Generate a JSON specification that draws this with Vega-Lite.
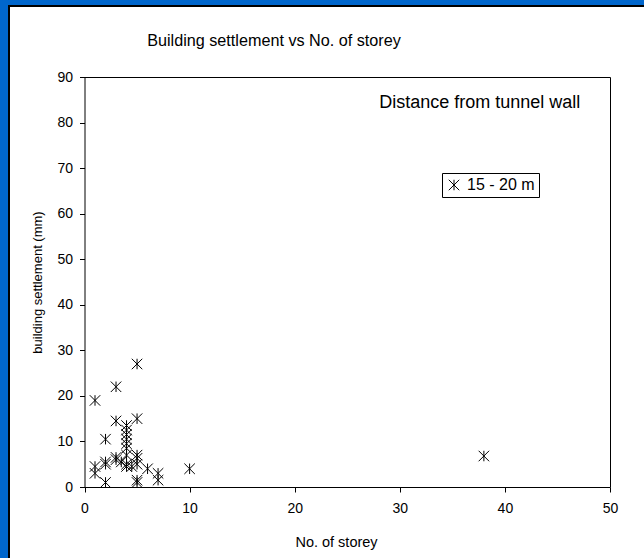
{
  "$schema": "https://vega.github.io/schema/vega-lite/v6.json",
  "width": 644,
  "height": 560,
  "autosize": {"type": "none"},
  "padding": {"left": 9, "top": 6, "right": 0, "bottom": 0},
  "background": "#0066CC",
  "config": {
    "view": {"fill": "white", "stroke": "black", "strokeWidth": 2},
    "font": "Liberation Sans",
    "axis": {
      "labelFont": "Liberation Sans",
      "labelFontSize": 14,
      "labelColor": "black",
      "labelFlush": false,
      "titleFont": "Liberation Sans",
      "titleFontSize": 13,
      "titleFontWeight": "normal",
      "titleColor": "black",
      "domainColor": "black",
      "tickColor": "black",
      "tickSize": 5,
      "grid": false
    }
  },
  "title": {
    "text": "Building settlement vs No. of storey",
    "anchor": "middle",
    "frame": "group",
    "baseline": "middle",
    "offset": 0,
    "dx": -57,
    "dy": 51,
    "font": "Liberation Sans",
    "fontSize": 16.2,
    "fontWeight": "normal",
    "color": "black"
  },
  "data": {
    "values": [
      {"storeys": 1, "settlement": 19, "distance": "15 - 20 m"},
      {"storeys": 3, "settlement": 22, "distance": "15 - 20 m"},
      {"storeys": 5, "settlement": 27, "distance": "15 - 20 m"},
      {"storeys": 3, "settlement": 14.5, "distance": "15 - 20 m"},
      {"storeys": 5, "settlement": 15, "distance": "15 - 20 m"},
      {"storeys": 4, "settlement": 13.5, "distance": "15 - 20 m"},
      {"storeys": 4, "settlement": 12.5, "distance": "15 - 20 m"},
      {"storeys": 4, "settlement": 11.5, "distance": "15 - 20 m"},
      {"storeys": 4, "settlement": 10.5, "distance": "15 - 20 m"},
      {"storeys": 4, "settlement": 9.5, "distance": "15 - 20 m"},
      {"storeys": 4, "settlement": 8.5, "distance": "15 - 20 m"},
      {"storeys": 4, "settlement": 7, "distance": "15 - 20 m"},
      {"storeys": 2, "settlement": 10.5, "distance": "15 - 20 m"},
      {"storeys": 1, "settlement": 4.5, "distance": "15 - 20 m"},
      {"storeys": 1, "settlement": 3, "distance": "15 - 20 m"},
      {"storeys": 2, "settlement": 5.5, "distance": "15 - 20 m"},
      {"storeys": 2, "settlement": 5, "distance": "15 - 20 m"},
      {"storeys": 2, "settlement": 1, "distance": "15 - 20 m"},
      {"storeys": 3, "settlement": 6.5, "distance": "15 - 20 m"},
      {"storeys": 3, "settlement": 6, "distance": "15 - 20 m"},
      {"storeys": 3.5, "settlement": 5.5, "distance": "15 - 20 m"},
      {"storeys": 4, "settlement": 5, "distance": "15 - 20 m"},
      {"storeys": 4, "settlement": 4.5, "distance": "15 - 20 m"},
      {"storeys": 4.5, "settlement": 4.5, "distance": "15 - 20 m"},
      {"storeys": 5, "settlement": 7, "distance": "15 - 20 m"},
      {"storeys": 5, "settlement": 6.3, "distance": "15 - 20 m"},
      {"storeys": 5, "settlement": 5, "distance": "15 - 20 m"},
      {"storeys": 5, "settlement": 1.5, "distance": "15 - 20 m"},
      {"storeys": 5, "settlement": 1, "distance": "15 - 20 m"},
      {"storeys": 6, "settlement": 4, "distance": "15 - 20 m"},
      {"storeys": 7, "settlement": 3, "distance": "15 - 20 m"},
      {"storeys": 7, "settlement": 1.5, "distance": "15 - 20 m"},
      {"storeys": 10, "settlement": 4, "distance": "15 - 20 m"},
      {"storeys": 38, "settlement": 6.8, "distance": "15 - 20 m"}
    ]
  },
  "layer": [
    {
      "mark": {"type": "point", "filled": false, "color": "black", "strokeWidth": 1, "size": 110, "opacity": 1},
      "encoding": {
        "x": {
          "field": "storeys",
          "type": "quantitative",
          "scale": {"domain": [0, 50], "range": [75.5, 601], "nice": false, "zero": false},
          "axis": {"orient": "bottom", "offset": -79, "values": [0, 10, 20, 30, 40, 50], "title": "No. of storey", "labelPadding": 9, "titlePadding": 20, "titleFontSize": 14.5, "titleX": 327}
        },
        "y": {
          "field": "settlement",
          "type": "quantitative",
          "scale": {"domain": [0, 90], "range": [481, 71], "nice": false, "zero": false},
          "axis": {"orient": "left", "offset": -75.5, "values": [0, 10, 20, 30, 40, 50, 60, 70, 80, 90], "title": "building settlement (mm)", "labelPadding": 7, "titlePadding": 12}
        },
        "shape": {
          "field": "distance",
          "type": "nominal",
          "scale": {"range": ["M-1,-1L1,1M-1,1L1,-1M0,-1L0,1"]},
          "legend": {
            "orient": "none",
            "legendX": 433,
            "legendY": 167,
            "title": null,
            "strokeColor": "black",
            "fillColor": "white",
            "padding": 4,
            "cornerRadius": 0,
            "labelFont": "Liberation Sans",
            "labelFontSize": 16,
            "labelColor": "black",
            "labelOffset": 5,
            "symbolSize": 110,
            "symbolStrokeColor": "black",
            "symbolStrokeWidth": 1,
            "symbolFillColor": "transparent"
          }
        }
      }
    },
    {
      "mark": {"type": "point", "opacity": 0},
      "encoding": {
        "x": {
          "field": "storeys",
          "type": "quantitative",
          "axis": {"orient": "top", "offset": -71, "labels": false, "ticks": false, "title": null}
        },
        "y": {
          "field": "settlement",
          "type": "quantitative",
          "axis": {"orient": "right", "offset": -43, "labels": false, "ticks": false, "title": null}
        }
      }
    },
    {
      "data": {"values": [{"label": "Distance from tunnel wall"}]},
      "mark": {"type": "text", "font": "Liberation Sans", "fontSize": 18, "color": "black", "align": "center", "baseline": "middle"},
      "encoding": {
        "x": {"datum": 37.6, "type": "quantitative", "axis": null},
        "y": {"datum": 84.3, "type": "quantitative", "axis": null},
        "text": {"field": "label"}
      }
    }
  ],
  "resolve": {"axis": {"x": "independent", "y": "independent"}}
}
